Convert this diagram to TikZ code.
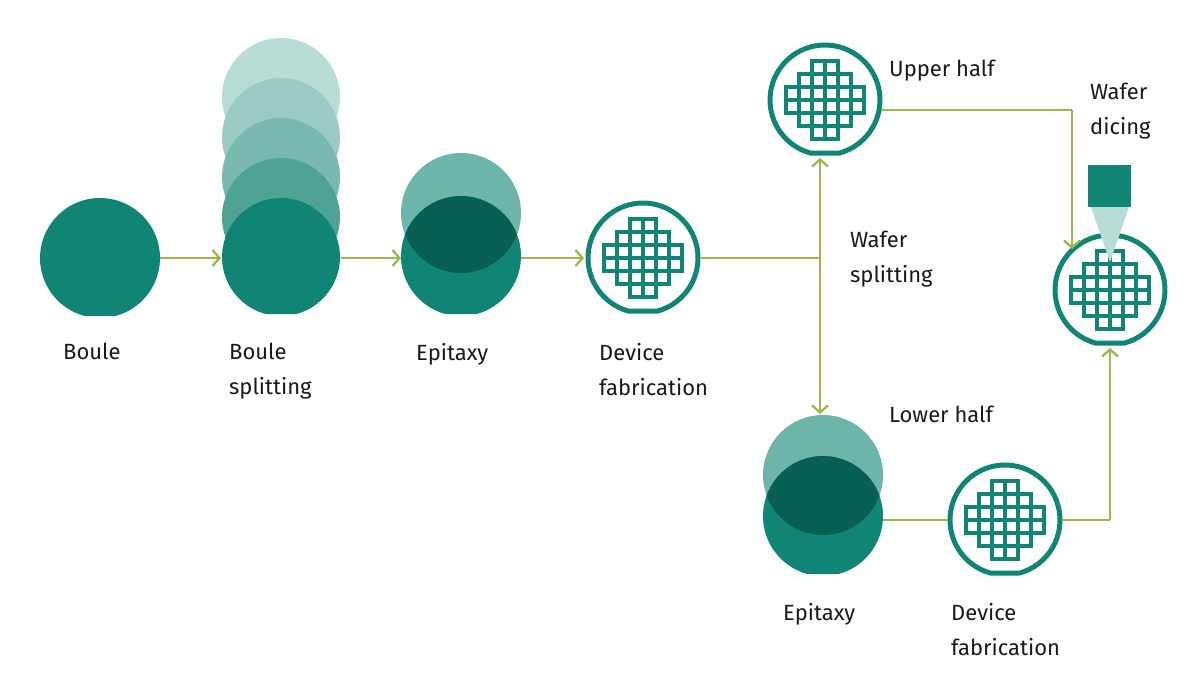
\documentclass[tikz,border=0pt]{standalone}
\usepackage{fontspec}
\setmainfont{Fira Sans}
\usetikzlibrary{arrows.meta}
\definecolor{tealA}{HTML}{108575}
\definecolor{tealD}{HTML}{075E52}
\definecolor{tealM}{HTML}{6DB5A9}
\definecolor{c1}{HTML}{B8DDD7}
\definecolor{c2}{HTML}{9CCBC4}
\definecolor{c3}{HTML}{7AB9B0}
\definecolor{c4}{HTML}{4FA394}
\definecolor{olive}{HTML}{9AB84A}
\tikzset{
  conn/.style={draw=olive,line width=2.3pt},
  arr/.style={conn,-{Straight Barb[length=7pt,width=16pt,line width=2.3pt]}},
  lbl/.style={anchor=north west,inner sep=0,font=\fontsize{22}{35}\selectfont,align=left,text=black!90},
}
\newcommand{\wgrid}[2]{%
  \foreach \r/\a/\b in {0/2/3,1/1/4,2/0/5,3/0/5,4/1/4,5/2/3}{
    \foreach \c in {\a,...,\b}{
      \draw[tealA,line width=4.2pt] ({#1-39+13*\c},{#2-39+13*\r}) rectangle ++(13,13);
    }}}
\newcommand{\wafer}[3]{%
  \draw[tealA,line width=5pt,fill=white] ({#1+#3*cos(75)},{#2+#3*sin(75)}) arc[start angle=75,end angle=-255,radius=#3] -- cycle;
  \wgrid{#1}{#2}}
\newcommand{\epi}[3]{%
  \fill[tealM] (#1,#2) circle[radius=60];
  \fill[tealA] ({#1+60*cos(75)},{#3+58*sin(75)}) arc[start angle=75,end angle=-255,radius=60] -- cycle;
  \begin{scope}
    \clip (#1,#2) circle[radius=60];
    \fill[tealD] ({#1+60*cos(75)},{#3+58*sin(75)}) arc[start angle=75,end angle=-255,radius=60] -- cycle;
  \end{scope}}
\begin{document}
\begin{tikzpicture}[x=1pt,y=-1pt]
\useasboundingbox (0,0) rectangle (1200,695);
% Boule
\fill[tealA] ({100+60*cos(75)},{258+60*sin(75)}) arc[start angle=75,end angle=-255,radius=60] -- cycle;
\coordinate (boule) at (100,258);
% Boule splitting
\foreach \y/\col in {98/c1,138/c2,178/c3,218/c4,258/tealA}{
  \fill[\col] ({281+59*cos(75)},{\y+58*sin(75)}) arc[start angle=75,end angle=-255,radius=59] -- cycle;}
\coordinate (split) at (281,258);
% Epitaxy
\epi{461}{213}{258}
\coordinate (epi) at (461,258);
\epi{823}{475}{518}
\coordinate (epiB) at (823,518);
% Wafers
\wafer{643}{258}{55}
\wafer{825}{100}{55}
\wafer{1005}{520}{55}
\wafer{1110}{290}{55}
% dicing tool
\fill[c1] (1091,207) -- (1129,207) -- (1110,262) -- cycle;
\fill[tealA] (1088,165) rectangle (1131,207);
% named points
\coordinate (splitpt) at (820,258);
\coordinate (upB) at (820,158);
\coordinate (loT) at (820,414);
\coordinate (c1r) at (882,110);
\coordinate (k1) at (1072,110);
\coordinate (finT) at (1072,249);
\coordinate (fab2r) at (1062,520);
\coordinate (k2) at (1110,520);
\coordinate (finB) at (1110,348);
% connectors
\draw[arr] (160,258) -- (221,258);
\draw[arr] (341,258) -- (401,258);
\draw[arr] (521,258) -- (584,258);
\draw[conn] (700,258) -- (splitpt);
\draw[arr] (splitpt) -- (upB);
\draw[arr] (splitpt) -- (loT);
\draw[conn] (c1r) -- (k1);
\draw[arr] (k1) -- (finT);
\draw[conn] (883,520) -- (948,520);
\draw[conn] (fab2r) -- (k2);
\draw[arr] (k2) -- (finB);
% labels
\node[lbl] (l1) at (63,343) {Boule};
\node[lbl] (l2) at (229,343) {Boule\\splitting};
\node[lbl] (l3) at (416,343) {Epitaxy};
\node[lbl] (l4) at (599,343) {Device\\fabrication};
\node[lbl] (l5) at (889,60) {Upper half};
\node[lbl] (l6) at (1090,83) {Wafer\\dicing};
\node[lbl] (l7) at (850,231) {Wafer\\splitting};
\node[lbl] (l8) at (889,406) {Lower half};
\node[lbl] (l9) at (783,603) {Epitaxy};
\node[lbl] (l10) at (951,603) {Device\\fabrication};
\end{tikzpicture}
\end{document}
